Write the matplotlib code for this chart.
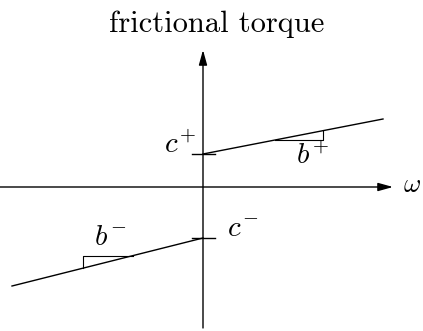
import matplotlib
matplotlib.use("Agg")
import matplotlib.pyplot as plt

plt.rcParams['mathtext.fontset'] = 'cm'

# friction branches (omega, torque) endpoints
omega_pos = [0, 180]
torque_pos = [33, 68]
omega_neg = [-191, 0]
torque_neg = [-99, -51]

# Coulomb levels c+ / c-
c_plus = 33
c_minus = -51

# slope markers: (x0, x1) of the horizontal leg
slope_pos_x = [72, 120]
slope_neg_x = [-120, -70]

fig = plt.figure(figsize=(4.23, 3.31), dpi=100)
ax = fig.add_axes([0, 0, 1, 1])
ax.set_xlim(-203, 220)
ax.set_ylim(-144, 187)
ax.axis('off')

# axes with arrows
ax.annotate('', xy=(190, 0), xytext=(-203, 0),
            arrowprops=dict(arrowstyle='-|>,head_length=0.9,head_width=0.25',
                            lw=1.0, color='black', shrinkA=0, shrinkB=0))
ax.annotate('', xy=(0, 137), xytext=(0, -141),
            arrowprops=dict(arrowstyle='-|>,head_length=0.9,head_width=0.25',
                            lw=1.0, color='black', shrinkA=0, shrinkB=0))

# friction lines
ax.plot(omega_pos, torque_pos, color='black', lw=1.0)
ax.plot(omega_neg, torque_neg, color='black', lw=1.0)

# ticks at c+ and c-
ax.plot([-11, 12], [c_plus, c_plus], color='black', lw=1.0)
ax.plot([-11, 12], [c_minus, c_minus], color='black', lw=1.0)

# slope triangles
sp = (torque_pos[1] - torque_pos[0]) / (omega_pos[1] - omega_pos[0])
y0 = torque_pos[0] + sp * (slope_pos_x[0] - omega_pos[0])
y1 = torque_pos[0] + sp * (slope_pos_x[1] - omega_pos[0])
ax.plot([slope_pos_x[0], slope_pos_x[1], slope_pos_x[1]], [y0, y0, y1],
        color='black', lw=0.8)

sn = (torque_neg[1] - torque_neg[0]) / (omega_neg[1] - omega_neg[0])
y0 = torque_neg[0] + sn * (slope_neg_x[0] - omega_neg[0])
y1 = torque_neg[0] + sn * (slope_neg_x[1] - omega_neg[0])
ax.plot([slope_neg_x[0], slope_neg_x[0], slope_neg_x[1]], [y0, y1, y1],
        color='black', lw=0.8)

fs = 21
ax.text(-7, 42, r'$c^{\!+}$', fontsize=fs, ha='right', va='center')
ax.text(110, 31, r'$b^{\!+}$', fontsize=fs, ha='center', va='center')
ax.text(-93, -50, r'$b^{\!-}$', fontsize=fs, ha='center', va='center')
ax.text(24, -42, r'$c^{\!-}$', fontsize=fs, ha='left', va='center')
ax.text(200, 2, r'$\omega$', fontsize=19, ha='left', va='center')
ax.text(14, 163, 'frictional torque', fontsize=22, ha='center', va='center',
        family='cmr10')

fig.savefig('out.png', dpi=100)
